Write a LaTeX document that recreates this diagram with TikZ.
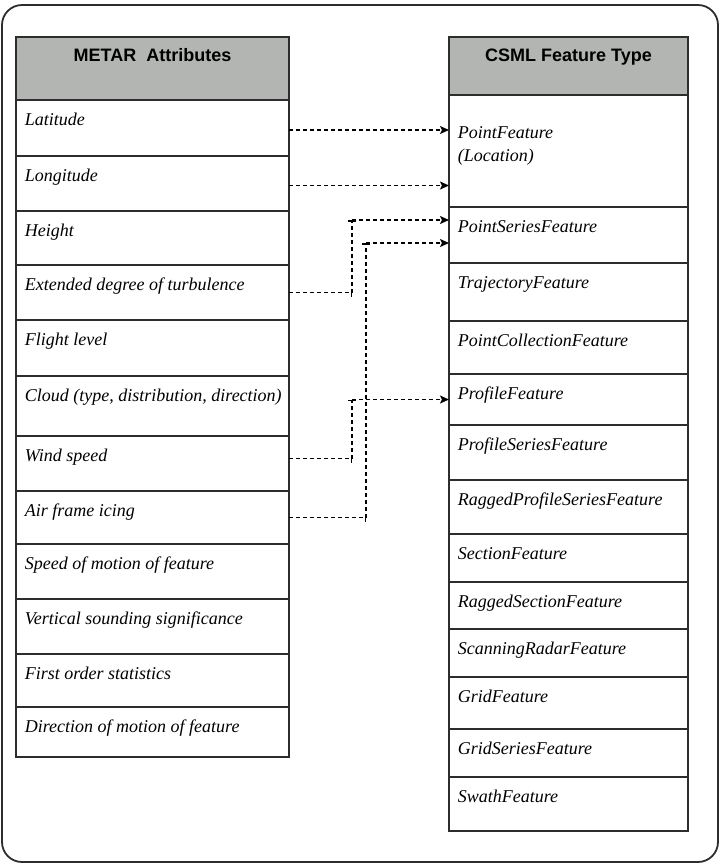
\documentclass[tikz,border=0pt]{standalone}
\usepackage{fontspec}
\setmainfont{Liberation Serif}
\setsansfont{Liberation Sans}
\usetikzlibrary{arrows.meta, positioning}
\definecolor{headgray}{RGB}{179,181,179}
\definecolor{rulegray}{RGB}{45,45,45}
\tikzset{cell/.style={draw=rulegray,line width=1pt,outer sep=0pt,inner sep=0pt,minimum height=#1},
  lcell/.style={cell=#1,minimum width=136.5pt},
  rcell/.style={cell=#1,minimum width=119.5pt},
  item text/.style={anchor=base west,inner sep=0pt,align=left,xshift=4.25pt,yshift=-12.75pt,
    font=\itshape\fontsize{9}{11.5}\selectfont},
  item/.style={label={[item text]north west:#1}},
  head text/.style={anchor=base,inner sep=0pt,yshift=-12pt,font=\sffamily\bfseries\fontsize{9}{11}\selectfont},
  head/.style={fill=headgray,label={[head text]north:#1}},
  link/.style={line width=0.75pt,dash pattern=on 2pt off 1.5pt},
  tip/.style={-{Stealth[length=4.5pt,width=4pt,inset=1pt]}},
  tick/.style={-{Bar[width=4pt]}},
}
\begin{document}
\begin{tikzpicture}[x=0.5pt, y=-0.5pt]
       \useasboundingbox (0,0) rectangle (725,864);
       \draw[line width=0.9pt, rulegray, rounded corners=10pt] (2,5) rectangle (718,862);

       % METAR side
       \node[lcell=31.5pt, head={METAR\ \ Attributes}, anchor=north west] (lhead) at (16,37) {};
       \node[lcell=28pt, item=Latitude] (lat) [below=0pt of lhead] {};
       \node[lcell=27.5pt, item=Longitude] (lon) [below=0pt of lat] {};
       \node[lcell=27pt, item=Height] (hgt) [below=0pt of lon] {};
       \node[lcell=27.5pt, item={Extended degree of turbulence}] (ext) [below=0pt of hgt] {};
       \node[lcell=28pt, item={Flight level}] (flt) [below=0pt of ext] {};
       \node[lcell=30pt, item={Cloud (type, distribution, direction)}] (cld) [below=0pt of flt] {};
       \node[lcell=27.5pt, item={Wind speed}] (wind) [below=0pt of cld] {};
       \node[lcell=26.5pt, item={Air frame icing}] (icing) [below=0pt of wind] {};
       \node[lcell=27.5pt, item={Speed of motion of feature}] (spd) [below=0pt of icing] {};
       \node[lcell=27.5pt, item={Vertical sounding significance}] (vert) [below=0pt of spd] {};
       \node[lcell=26.5pt, item={First order statistics}] (stat) [below=0pt of vert] {};
       \node[lcell=25pt, item={Direction of motion of feature}] (dir) [below=0pt of stat] {};

       % CSML side
       \node[rcell=29pt, head={CSML Feature Type}, anchor=north west] (rhead) at (449,37) {};
       \node[rcell=56pt, label={[item text,yshift=-20.25pt]north west:PointFeature\\(Location)}] (pf) [below=0pt of rhead] {};
       \node[rcell=28pt, item=PointSeriesFeature] (psf) [below=0pt of pf] {};
       \node[rcell=29pt, item=TrajectoryFeature] (traj) [below=0pt of psf] {};
       \node[rcell=26.5pt, item=PointCollectionFeature] (pcol) [below=0pt of traj] {};
       \node[rcell=25.5pt, item=ProfileFeature] (prf) [below=0pt of pcol] {};
       \node[rcell=27.5pt, item=ProfileSeriesFeature] (prfs) [below=0pt of prf] {};
       \node[rcell=27pt, item=RaggedProfileSeriesFeature] (rprfs) [below=0pt of prfs] {};
       \node[rcell=24pt, item=SectionFeature] (sec) [below=0pt of rprfs] {};
       \node[rcell=23.5pt, item=RaggedSectionFeature] (rsec) [below=0pt of sec] {};
       \node[rcell=24pt, item=ScanningRadarFeature] (radar) [below=0pt of rsec] {};
       \node[rcell=26pt, item=GridFeature] (grid) [below=0pt of radar] {};
       \node[rcell=24pt, item=GridSeriesFeature] (grids) [below=0pt of grid] {};
       \node[rcell=27pt, item=SwathFeature] (swath) [below=0pt of grids] {};

       % mappings
       \coordinate (v1) at (352,0);
       \coordinate (v2) at (366,0);
       \coordinate (p1) at ([yshift=7.5pt]psf.west);
       \coordinate (p2) at ([yshift=-4pt]psf.west);
       \coordinate (w0) at ([yshift=2.5pt]wind.east);

       \draw[link,tip] ([yshift=-1pt]lat.east) -- ([yshift=-1pt]lat.east -| pf.west);
       \draw[link,tip] ([yshift=-1pt]lon.east) -- ([yshift=-1pt]lon.east -| pf.west);

       \draw[link,tick] (ext.east) -- (ext.east -| v1);
       \draw[link,tick] (ext.east -| v1) -- (p1 -| v1);
       \draw[link,tip] (p1 -| v1) -- (p1);

       \draw[link,tick] (icing.east) -- (icing.east -| v2);
       \draw[link,tick] (icing.east -| v2) -- (p2 -| v2);
       \draw[link,tip] (p2 -| v2) -- (p2);

       \draw[link,tick] (w0) -- (w0 -| v1);
       \draw[link,tick] (w0 -| v1) -- (prf.west -| v1);
       \draw[link,tip] (prf.west -| v1) -- (prf.west);
\end{tikzpicture}
\end{document}
